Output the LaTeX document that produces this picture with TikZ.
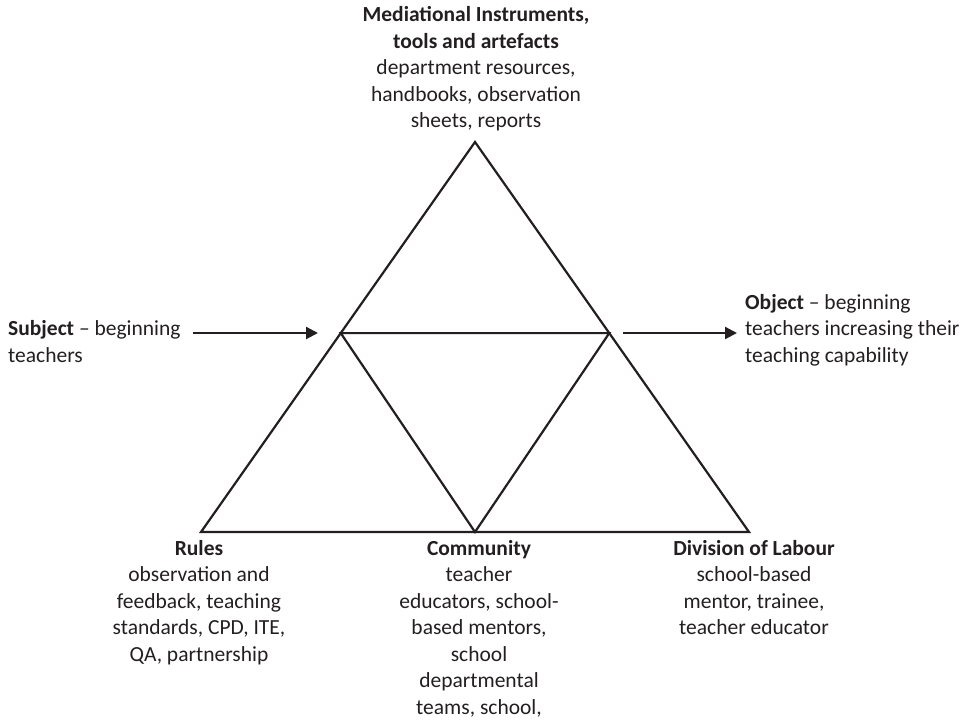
\documentclass[tikz,border=0pt]{standalone}
\usepackage{fontspec}
\setmainfont{Carlito}
\usetikzlibrary{arrows.meta,calc}
\definecolor{ink}{HTML}{231F20}

\begin{document}
\begin{tikzpicture}[x=1pt,y=-1pt,
    side/.style={ink,line width=2.2pt,line join=miter},
    pointer/.style={ink,line width=2.2pt,-{Triangle[length=12pt,width=12pt]}},
    txt/.style={ink,inner sep=0pt,align=center,font=\fontsize{21.5}{26.5}\selectfont}]
    \useasboundingbox (0,0) rectangle (971,722);

    % corners of the activity triangle
    \coordinate (apex) at (475,142);
    \coordinate (bl) at (201,532);
    \coordinate (br) at (749,532);
    \coordinate (ml) at ($(apex)!0.49!(bl)$);
    \coordinate (mr) at ($(apex)!0.49!(br)$);
    \coordinate (mb) at ($(bl)!0.5!(br)$);

    \draw[side] (apex)--(bl)--(br)--cycle;
    \draw[side] (ml)--(mr)--(mb)--cycle;

    % arrows in and out
    \coordinate (subj-out) at (193,333);
    \coordinate (subj-in) at (318,333);
    \coordinate (obj-out) at (623,333);
    \coordinate (obj-in) at (737,333);
    \draw[pointer] (subj-out)--(subj-in);
    \draw[pointer] (obj-out)--(obj-in);

    % labels (base = last line)
    \node[txt,anchor=base] (mediation) at (476,128) {\textbf{Mediational Instruments,}\\ \textbf{tools and artefacts}\\ department resources,\\ handbooks, observation\\ sheets, reports};
    \node[txt,anchor=base west,align=left] (subject) at (8,362) {\textbf{Subject} -- beginning\\ teachers};
    \node[txt,anchor=base west,align=left] (object) at (745,362) {\textbf{Object} -- beginning\\ teachers increasing their\\ teaching capability};
    \node[txt,anchor=base] (rules) at (199,661) {\textbf{Rules}\\ observation and\\ feedback, teaching\\ standards, CPD, ITE,\\ QA, partnership};
    \node[txt,anchor=base] (community) at (479,714) {\textbf{Community}\\ teacher\\ educators, school-\\ based mentors,\\ school\\ departmental\\ teams, school,};
    \node[txt,anchor=base] (division) at (754,634.5) {\textbf{Division of Labour}\\ school-based\\ mentor, trainee,\\ teacher educator};
\end{tikzpicture}
\end{document}
